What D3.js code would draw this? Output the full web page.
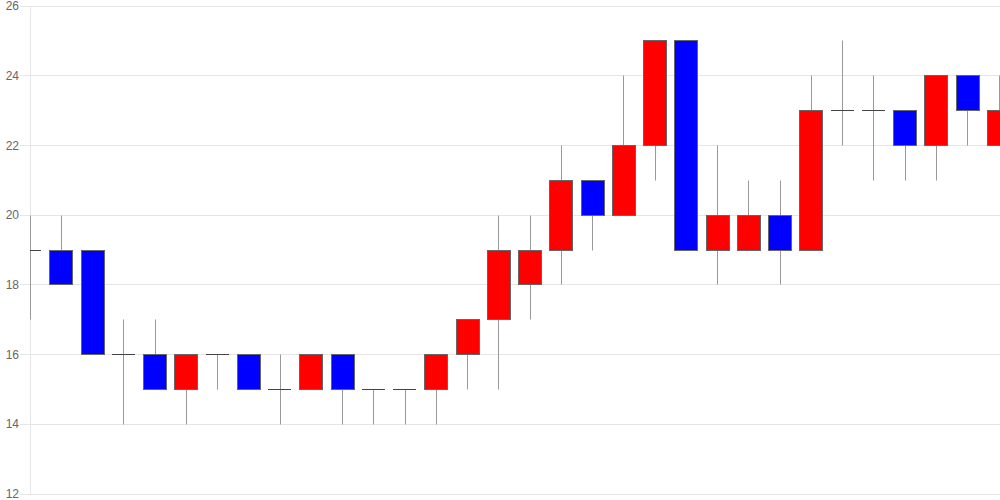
<!DOCTYPE html>
<html><head><meta charset="utf-8">
<script src="https://cdn.jsdelivr.net/npm/d3@7"></script>
<style>body{margin:0;background:#fff;}svg{display:block;}</style>
</head><body>
<script>
const opens  = [19,19,19,16,16,15,16,16,15,15,16,15,15,15,16,17,18,19,21,20,22,25,19,19,20,19,23,23,23,22,24,22];
const highs  = [20,20,19,17,17,16,16,16,16,16,16,15,15,16,17,20,20,22,21,24,25,25,22,21,21,24,25,24,23,24,24,24];
const lows   = [17,18,16,14,15,14,15,15,14,15,14,14,14,14,15,15,17,18,19,20,21,19,18,19,18,19,22,21,21,21,22,22];
const closes = [19,18,16,16,15,16,16,15,15,16,15,15,15,16,17,19,19,21,20,22,25,19,20,20,19,23,23,23,22,24,23,23];
const yTicks = [12,14,16,18,20,22,24,26];

(function(){
const W = 1000, H = 500;
const pL = 30, pR = 1000, pT = 6, pB = 494;
const svg = d3.select("body").append("svg").attr("width", W).attr("height", H);

const x = d3.scaleLinear().domain([0, opens.length - 1]).range([pL, pR - 1]);
const y = d3.scaleLinear().domain([12, 26]).range([pB, pT]);
const bw = 23;
const fy = v => Math.floor(y(v)) + 0.5;

// grid
svg.append("g").selectAll("line").data(yTicks).join("line")
  .attr("x1", 20).attr("x2", pR).attr("y1", d => fy(d)).attr("y2", d => fy(d))
  .attr("stroke", "#e6e6e6").attr("stroke-width", 1);
svg.append("line").attr("x1", pL + 0.5).attr("x2", pL + 0.5).attr("y1", pT).attr("y2", pB + 1)
  .attr("stroke", "#e6e6e6");

// labels
svg.append("g").selectAll("text").data(yTicks).join("text")
  .attr("x", 19).attr("y", d => y(d)).attr("dy", "0.35em")
  .attr("text-anchor", "end").attr("font-family", "Liberation Sans, Arial, sans-serif")
  .attr("font-size", 12).attr("fill", "#666").text(d => d);

svg.append("clipPath").attr("id", "clip").append("rect")
  .attr("x", pL).attr("y", 0).attr("width", pR - pL).attr("height", H);

const g = svg.append("g").attr("clip-path", "url(#clip)");
const idx = d3.range(opens.length);

// wicks
g.selectAll("line.w").data(idx).join("line").attr("class", "w")
  .attr("x1", i => Math.floor(x(i)) + 0.5).attr("x2", i => Math.floor(x(i)) + 0.5)
  .attr("y1", i => fy(highs[i])).attr("y2", i => fy(lows[i]))
  .attr("stroke", "#999").attr("stroke-width", 1);

// bodies
g.selectAll("rect.b").data(idx.filter(i => opens[i] !== closes[i])).join("rect").attr("class", "b")
  .attr("x", i => Math.floor(x(i) - bw / 2) + 0.5)
  .attr("y", i => fy(Math.max(opens[i], closes[i])))
  .attr("width", bw)
  .attr("height", i => fy(Math.min(opens[i], closes[i])) - fy(Math.max(opens[i], closes[i])))
  .attr("fill", i => closes[i] > opens[i] ? "#ff0000" : "#0000ff")
  .attr("stroke", "#666").attr("stroke-width", 1);

// doji
g.selectAll("line.d").data(idx.filter(i => opens[i] === closes[i])).join("line").attr("class", "d")
  .attr("x1", i => Math.floor(x(i) - bw / 2)).attr("x2", i => Math.floor(x(i) + bw / 2))
  .attr("y1", i => fy(opens[i])).attr("y2", i => fy(opens[i]))
  .attr("stroke", "#444").attr("stroke-width", 1);
})();
</script>
</body></html>
